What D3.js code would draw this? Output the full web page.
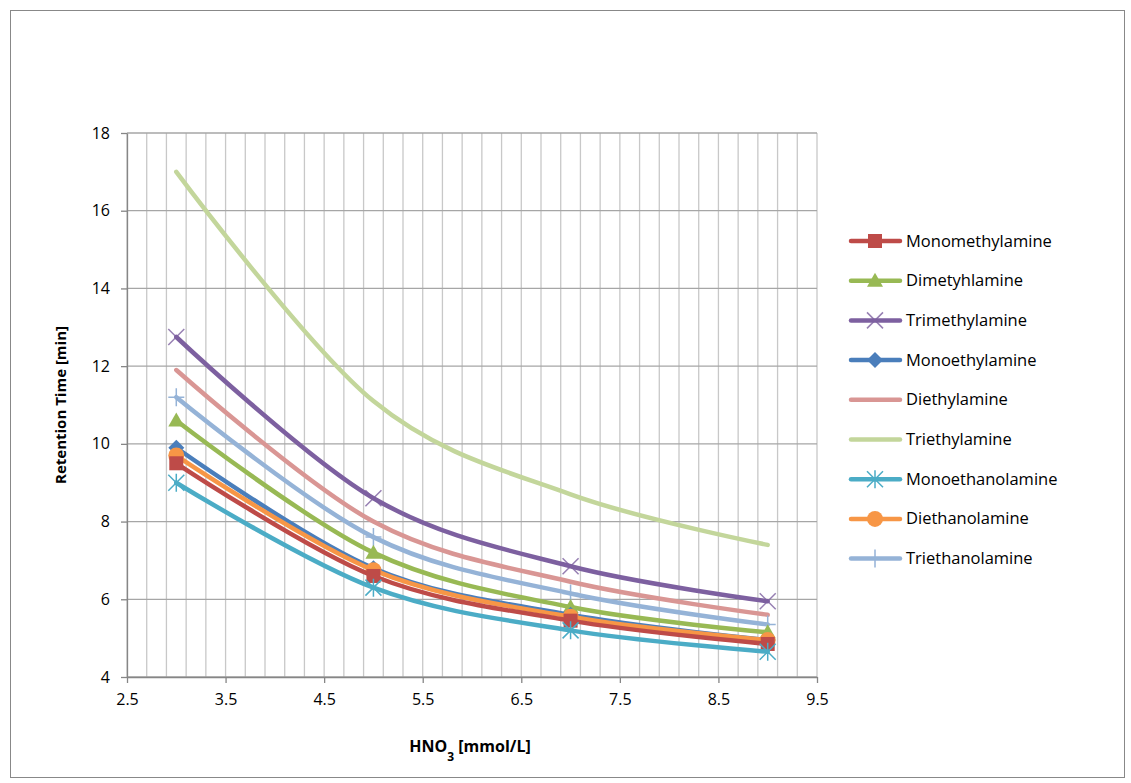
<!DOCTYPE html>
<html><head><meta charset="utf-8">
<script src="https://cdn.jsdelivr.net/npm/d3@7"></script>
<style>body{margin:0;background:#fff;font-family:"Open Sans",sans-serif}</style>
</head><body><div id="chart"></div>
<script>
const xValues = [3, 5, 7, 9];
const seriesNames = ["Monomethylamine","Dimetyhlamine","Trimethylamine","Monoethylamine","Diethylamine","Triethylamine","Monoethanolamine","Diethanolamine","Triethanolamine"];
const seriesValues = [
  [9.5, 6.6, 5.45, 4.85],
  [10.6, 7.2, 5.8, 5.15],
  [12.75, 8.6, 6.85, 5.95],
  [9.9, 6.8, 5.6, 4.95],
  [11.9, 8.0, 6.45, 5.6],
  [17.0, 11.1, 8.7, 7.4],
  [9.0, 6.3, 5.2, 4.65],
  [9.7, 6.75, 5.55, 4.95],
  [11.2, 7.6, 6.15, 5.35]
];
const colors = ["#BE4B48","#98B954","#7D60A0","#4A7EBB","#D99694","#C3D69B","#4BACC6","#F79646","#95B3D7"];
const markers = ["square","triangle","x","diamond","none","none","star","circle","plus"];
const xTicks = [2.5,3.5,4.5,5.5,6.5,7.5,8.5,9.5];
const yTicks = [4,6,8,10,12,14,16,18];

const W = 1131, H = 783;
const svg = d3.select("#chart").append("svg").attr("width", W).attr("height", H);
svg.append("rect").attr("x", 10.5).attr("y", 10.5).attr("width", 1114).attr("height", 767)
  .attr("fill", "#fff").attr("stroke", "#888");

const x = d3.scaleLinear().domain([2.5, 9.5]).range([127, 817]);
const y = d3.scaleLinear().domain([4, 18]).range([677, 133]);

// grid
const g = svg.append("g");
g.selectAll(".vg").data(d3.range(0, 36).map(i => 2.5 + i * 0.2)).enter().append("line")
  .attr("x1", d => x(d)).attr("x2", d => x(d)).attr("y1", y(18)).attr("y2", y(4))
  .attr("stroke", "#c8c8c8").attr("stroke-width", 1.3);
g.selectAll(".hg").data(yTicks).enter().append("line")
  .attr("x1", x(2.5)).attr("x2", x(9.5)).attr("y1", d => y(d)).attr("y2", d => y(d))
  .attr("stroke", "#a6a6a6").attr("stroke-width", 1.3);

const xAxis = svg.append("g").attr("transform", `translate(0,${y(4)})`)
  .call(d3.axisBottom(x).tickValues(xTicks).tickSize(6).tickSizeOuter(0).tickFormat(d3.format(".1f")));
const yAxis = svg.append("g").attr("transform", `translate(${x(2.5)},0)`)
  .call(d3.axisLeft(y).tickValues(yTicks).tickSize(6).tickSizeOuter(0));
[xAxis, yAxis].forEach(a => {
  a.attr("font-size", 16).attr("font-family", "Open Sans");
  a.selectAll("path,line").attr("stroke", "#868686").attr("stroke-width", 1.3);
  a.selectAll("text").attr("fill", "#000");
});
xAxis.selectAll("text").attr("dy", "1.2em");
yAxis.selectAll("text").attr("dx", "-0.5em");

svg.append("text").attr("x", 470).attr("y", 752).attr("text-anchor", "middle")
  .attr("font-size", 16).attr("font-weight", "bold")
  .html('HNO<tspan baseline-shift="sub" font-size="12">3</tspan><tspan baseline-shift="0">  [mmol/L]</tspan>');
svg.append("text").attr("transform", `translate(66,405) rotate(-90)`).attr("text-anchor", "middle")
  .attr("font-size", 15).attr("font-weight", "bold").text("Retention Time [min]");

function drawMarker(sel, type, color, cx, cy) {
  const s = 7;
  if (type === "square") sel.append("rect").attr("x", cx - s).attr("y", cy - s).attr("width", 2 * s).attr("height", 2 * s).attr("fill", color);
  else if (type === "triangle") sel.append("path").attr("d", `M${cx},${cy - 8}L${cx + 8},${cy + 6}L${cx - 8},${cy + 6}Z`).attr("fill", color);
  else if (type === "diamond") sel.append("path").attr("d", `M${cx},${cy - 8}L${cx + 8},${cy}L${cx},${cy + 8}L${cx - 8},${cy}Z`).attr("fill", color);
  else if (type === "circle") sel.append("circle").attr("cx", cx).attr("cy", cy).attr("r", 8).attr("fill", color);
  else if (type === "x") sel.append("path").attr("d", `M${cx - 8},${cy - 8}L${cx + 8},${cy + 8}M${cx - 8},${cy + 8}L${cx + 8},${cy - 8}`).attr("stroke", color).attr("stroke-width", 1.5).attr("opacity", 0.8);
  else if (type === "plus") sel.append("path").attr("d", `M${cx - 8},${cy}L${cx + 8},${cy}M${cx},${cy - 9}L${cx},${cy + 9}`).attr("stroke", color).attr("stroke-width", 1.5);
  else if (type === "star") sel.append("path").attr("d", `M${cx - 8},${cy - 8}L${cx + 8},${cy + 8}M${cx - 8},${cy + 8}L${cx + 8},${cy - 8}M${cx},${cy - 9}L${cx},${cy + 9}`).attr("stroke", color).attr("stroke-width", 1.5);
}

const line = d3.line().x((d, i) => x(xValues[i])).y(d => y(d)).curve(d3.curveCatmullRom.alpha(0));
const order = [5, 2, 4, 8, 1, 3, 7, 0, 6];
order.forEach(i => {
  const sg = svg.append("g");
  sg.append("path").datum(seriesValues[i]).attr("d", line).attr("fill", "none")
    .attr("stroke", colors[i]).attr("stroke-width", 4.5).attr("stroke-linecap", "round");
  seriesValues[i].forEach((v, j) => drawMarker(sg, markers[i], colors[i], x(xValues[j]), y(v)));
});

// legend
const lg = svg.append("g");
seriesNames.forEach((name, i) => {
  const ly = 241 + i * 39.7;
  lg.append("line").attr("x1", 851).attr("x2", 900).attr("y1", ly).attr("y2", ly)
    .attr("stroke", colors[i]).attr("stroke-width", 4.5).attr("stroke-linecap", "round");
  drawMarker(lg, markers[i], colors[i], 875, ly);
  lg.append("text").attr("x", 906).attr("y", ly + 5.5).attr("font-size", 16.5).text(name);
});
</script></body></html>
